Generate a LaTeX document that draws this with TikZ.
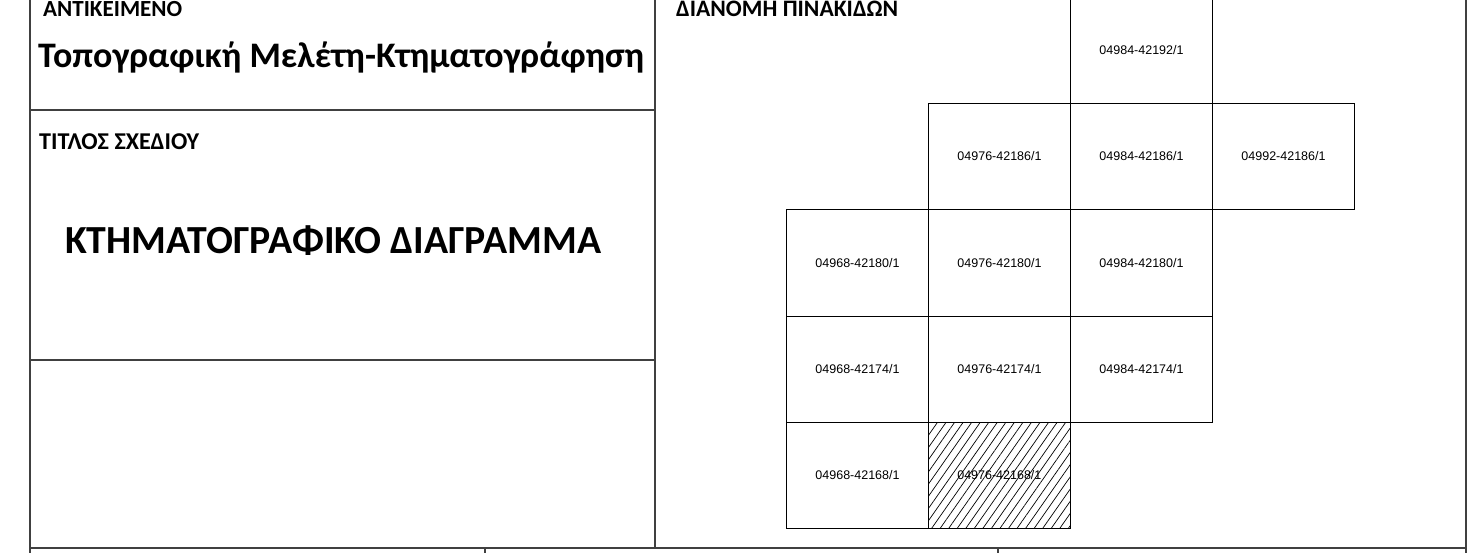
\documentclass[tikz,border=0pt]{standalone}
\usepackage{fontspec}
\setmainfont{Carlito}
\newfontfamily\cellfont{Liberation Sans}
\usetikzlibrary{patterns.meta}
\begin{document}
\begin{tikzpicture}[x=1pt,y=-1pt,
  frame/.style={draw=black!75, line width=1.8pt},
  cell/.style={draw=black, line width=1pt, minimum width=142pt, minimum height=106pt,
    inner sep=0pt, anchor=north west, font=\cellfont\fontsize{12.5}{14}\selectfont},
  head/.style={anchor=base west, inner sep=0pt, font=\bfseries}]
\useasboundingbox (0,0) rectangle (1479,553);

% frame
\draw[frame] (30,0) -- (30,553);
\draw[frame] (655,0) -- (655,548);
\draw[frame] (1466,0) -- (1466,553);
\draw[frame] (30,110) -- (655,110);
\draw[frame] (30,360) -- (655,360);
\draw[frame] (30,548) -- (1466,548);
\draw[frame] (485,548) -- (485,553);
\draw[frame] (998,548) -- (998,553);

% headings
\node[head] (hobj) at (43,16.5) {\resizebox{139pt}{!}{\fontsize{22}{26}\selectfont\bfseries ΑΝΤΙΚΕΙΜΕΝΟ}};
\node[head] (hname) at (38,68) {\resizebox{606pt}{!}{\fontsize{36}{40}\selectfont\bfseries Τοπογραφική Μελέτη-Κτηματογράφηση}};
\node[head] (htitle) at (39,150) {\resizebox{160pt}{!}{\fontsize{22}{26}\selectfont\bfseries ΤΙΤΛΟΣ ΣΧΕΔΙΟΥ}};
\node[head] (hdiag) at (65,254) {\resizebox{536pt}{!}{\fontsize{38}{42}\selectfont\bfseries ΚΤΗΜΑΤΟΓΡΑΦΙΚΟ ΔΙΑΓΡΑΜΜΑ}};
\node[head] (hdist) at (676,16.5) {\resizebox{222pt}{!}{\fontsize{22}{26}\selectfont\bfseries ΔΙΑΝΟΜΗ ΠΙΝΑΚΙΔΩΝ}};

% sheet grid
\node[cell] (s0) at (1070,-3) {04984-42192/1};
\node[cell] (s1) at (928,103) {04976-42186/1};
\node[cell] (s2) at (1070,103) {04984-42186/1};
\node[cell] (s3) at (1212,103) {04992-42186/1};
\node[cell] (s4) at (786,209.5) {04968-42180/1};
\node[cell] (s5) at (928,209.5) {04976-42180/1};
\node[cell] (s6) at (1070,209.5) {04984-42180/1};
\node[cell] (s7) at (786,316) {04968-42174/1};
\node[cell] (s8) at (928,316) {04976-42174/1};
\node[cell] (s9) at (1070,316) {04984-42174/1};
\node[cell] (s10) at (786,422) {04968-42168/1};
\node[cell, pattern={Lines[angle=55,distance=7pt,line width=0.7pt]}] (s11) at (928,422) {04976-42168/1};
\end{tikzpicture}
\end{document}
